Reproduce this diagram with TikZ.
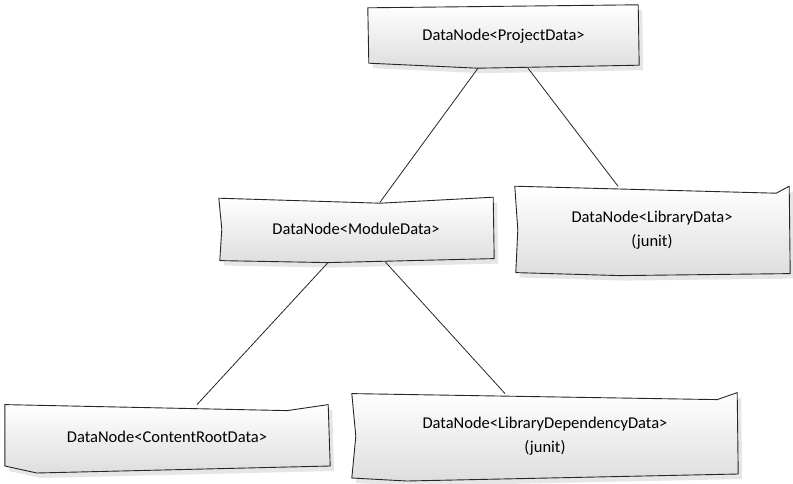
\documentclass[tikz,border=0pt]{standalone}
\usepackage{fontspec}
\setmainfont{Carlito}
\usetikzlibrary{positioning, shadows, backgrounds}

\begin{document}
\begin{tikzpicture}[x=1pt, y=1pt, every node/.style={font=\fontsize{16.5}{24}\selectfont,
						inner sep=0pt, align=center},
			sketch/.style={draw=black!85, line width=0.9pt, line join=round,
						top color=white, bottom color=black!13,
						drop shadow={shadow xshift=4pt, shadow yshift=-5pt, opacity=0.2}},
			link/.style={draw=black!85, line width=0.8pt}]

			\useasboundingbox (0,0) rectangle (793,-483);

			% Nodes for the data tree
			\node (project) [minimum width=271pt, minimum height=63pt] at (503.5,-36.5) {DataNode<ProjectData>};
			\node (module) [below=130pt of project, xshift=-147.5pt, minimum width=274pt, minimum height=61pt] {DataNode<ModuleData>};
			\node (library) [below=118pt of project, xshift=148.5pt, minimum width=274pt, minimum height=87pt] {DataNode<LibraryData>\\(junit)};
                \node (content) [below=145pt of module, xshift=-189pt, minimum width=324pt, minimum height=65pt] {DataNode<ContentRootData>};
                \node (libdep) [below=134pt of module, xshift=189pt, minimum width=386pt, minimum height=85pt] {DataNode<LibraryDependencyData>\\(junit)};

			% Sketchy boxes behind the texts
			\begin{scope}[on background layer]
			\draw[sketch] ([shift={(0,-3)}]project.north west) -- ([shift={(-1,0)}]project.north east)
				-- ([shift={(0,3)}]project.south east) -- ([shift={(-25.5,0)}]project.south)
				-- ([shift={(1,5)}]project.south west) -- cycle;
			\draw[sketch] (module.north west) -- ([shift={(24,-5)}]module.north)
				-- ([shift={(0,1)}]module.north east) -- ([shift={(1,1)}]module.south east)
				-- ([shift={(-28,-3)}]module.south) -- ([shift={(1,-1)}]module.south west)
				-- ([shift={(3,0)}]module.west) -- cycle;
			\draw[sketch] (library.north west) -- ([shift={(-13,-7)}]library.north east)
				-- (library.north east) -- ([shift={(1,0)}]library.south east)
				-- ([shift={(-32,-2)}]library.south) -- ([shift={(1,1)}]library.south west)
				-- ([shift={(3,0)}]library.west) -- cycle;
                \draw[sketch] (content.north west) -- ([shift={(-42,-6)}]content.north east)
				-- ([shift={(-1,0)}]content.north east) -- ([shift={(1,4)}]content.south east)
				-- ([shift={(32,-3)}]content.south west) -- ([shift={(0,4)}]content.south west) -- cycle;
                \draw[sketch] (libdep.north west) -- ([shift={(-21,-6)}]libdep.north east)
				-- ([shift={(-1,1)}]libdep.north east) -- ([shift={(0,5)}]libdep.south east)
				-- ([shift={(55,-2)}]libdep.south west) -- ([shift={(0,1)}]libdep.south west)
				-- ([shift={(4,0)}]libdep.west) -- cycle;
			\end{scope}

			% Lines between parents and children
			\draw[link] ([xshift=-25.5pt]project.south) -- ([xshift=24pt,yshift=-4pt]module.north);
			\draw[link] ([xshift=24.5pt]project.south) -- ([xshift=-34pt]library.north);
                \draw[link] ([xshift=-28pt,yshift=-3pt]module.south) -- ([xshift=30pt]content.north);
                \draw[link] ([xshift=29pt,yshift=-2pt]module.south) -- ([xshift=-40pt]libdep.north);

		\end{tikzpicture}
\end{document}
